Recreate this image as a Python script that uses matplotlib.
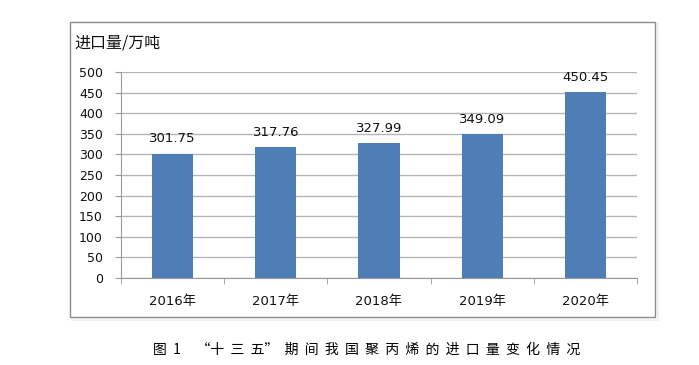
import matplotlib
matplotlib.use('Agg')
import matplotlib.pyplot as plt
from matplotlib.patches import Rectangle
import numpy as np

plt.rcParams['font.family'] = ['DejaVu Sans', 'Noto Sans CJK SC']

years = ['2016年', '2017年', '2018年', '2019年', '2020年']
imports = [301.75, 317.76, 327.99, 349.09, 450.45]
yticks = np.arange(0, 501, 50)

fig = plt.figure(figsize=(6.99, 3.65), dpi=100)

# outer chart frame
fig.patches.append(Rectangle((72/699, 1-320/365), 586/699, 296/365, transform=fig.transFigure,
                             facecolor='none', edgecolor='#f0f0f0', linewidth=1.5, zorder=0))
fig.patches.append(Rectangle((70/699, 1-317/365), 585/699, 295/365, transform=fig.transFigure,
                             facecolor='white', edgecolor='#8c8c8c', linewidth=1, zorder=0))

ax = fig.add_axes([121/699, 1-278/365, (637-121)/699, (278-72)/365])
ax.set_zorder(2)
ax.patch.set_alpha(0)

x = np.arange(len(years))
bars = ax.bar(x, imports, width=0.4, color='#4F7DB5', zorder=3)
for xi, v in zip(x, imports):
    ax.annotate('{:.2f}'.format(v), (xi, v), xytext=(0, 6), textcoords='offset points',
                ha='center', va='bottom', fontsize=9.5, color='#111111')

ax.set_xlim(-0.5, len(years)-0.5)
ax.set_ylim(0, 500)
ax.set_yticks(yticks)
ax.set_xticks(x)
ax.set_xticklabels(years, fontsize=9.5)
ax.tick_params(axis='y', labelsize=9, length=4, color='#999999', pad=9, labelcolor='#111111')
ax.set_xticks(np.arange(-0.5, len(years), 1), minor=True)
ax.tick_params(axis='x', which='major', length=0, pad=12, labelcolor='#111111')
ax.tick_params(axis='x', which='minor', length=4, color='#999999', direction='out')
ax.yaxis.grid(True, color='#b5b5b5', linewidth=1, zorder=0)
ax.set_axisbelow(True)
for s in ['top', 'right']:
    ax.spines[s].set_visible(False)
for s in ['left', 'bottom']:
    ax.spines[s].set_color('#999999')

fig.text(74/699, 1-43/365, '进口量/万吨', fontsize=11.5, ha='left', va='center',
         family=['Noto Sans CJK SC', 'DejaVu Sans'], color='#111111')

title = '图  1     “十  三  五”  ' + '  '.join('期间我国聚丙烯的进口量变化情况')
fig.text(367/699, 1-350/365, title, fontsize=10, ha='center', va='center', fontweight='medium',
         family=['Noto Sans CJK SC', 'DejaVu Sans'], color='#000000')

fig.savefig('out.png', dpi=100)
